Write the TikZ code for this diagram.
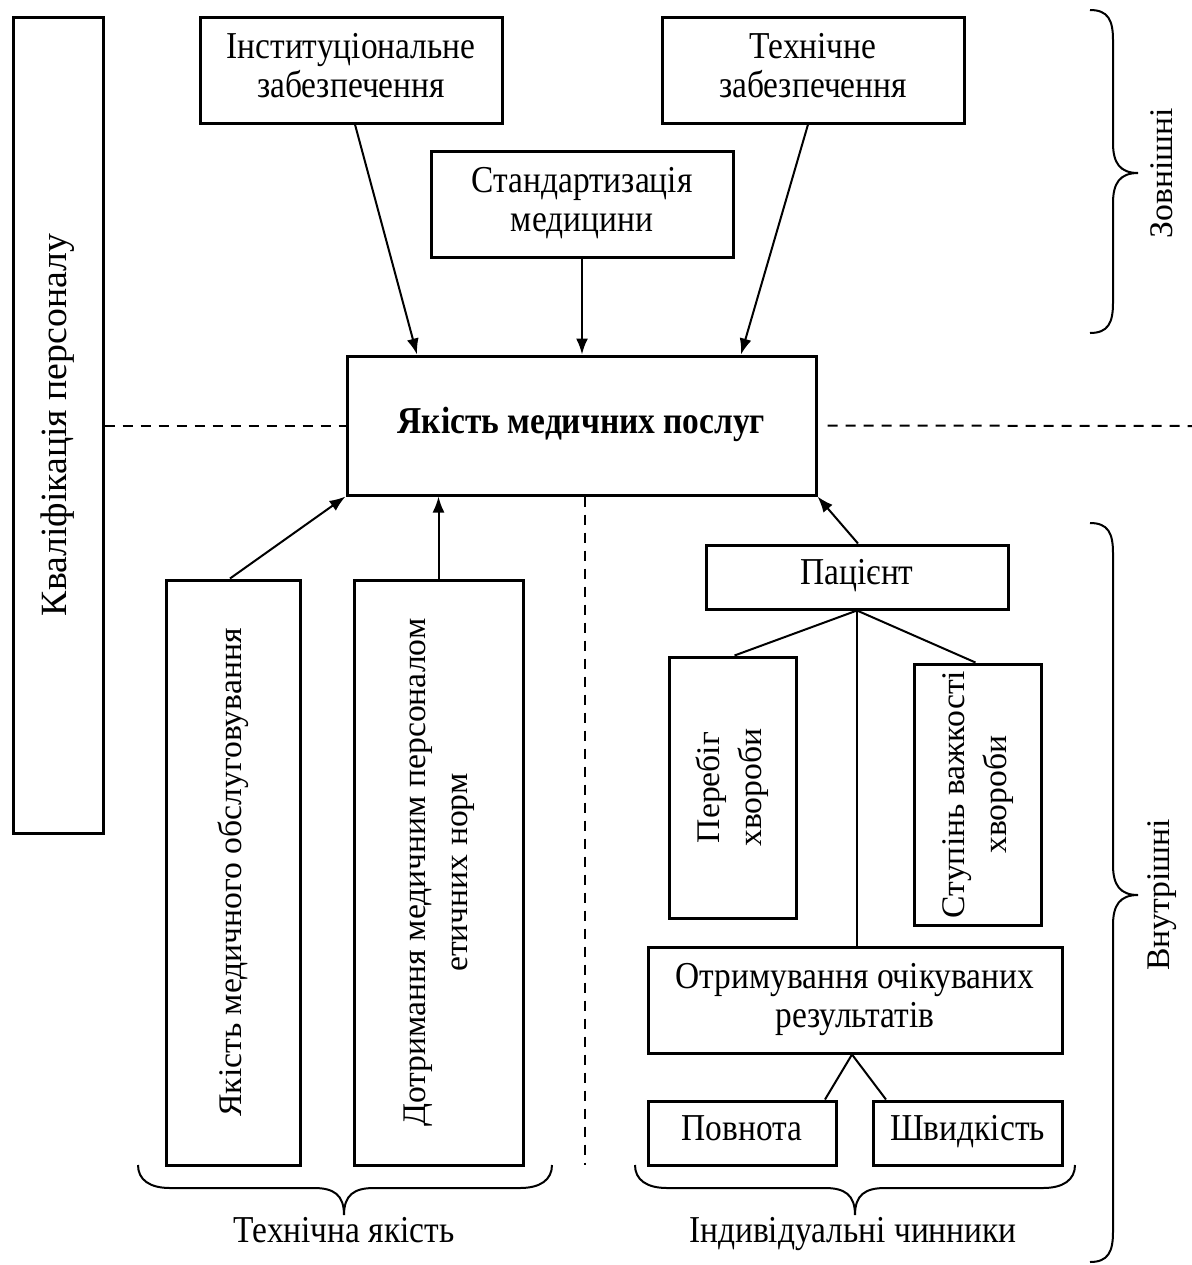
\documentclass[tikz,border=0pt]{standalone}
\usepackage{fontspec}
\setmainfont{Liberation Serif}
\newfontfamily\hfont{Liberation Serif}[FakeStretch=0.88]
\newfontfamily\vfont{Liberation Serif}[FakeStretch=1.02]
\usetikzlibrary{arrows.meta}
\newcommand{\myfs}{\hfont\fontsize{19}{19.5}\selectfont}
\newcommand{\myvfs}{\vfont\fontsize{16.5}{21}\selectfont}
\newcommand{\vtxt}[1]{\rotatebox{90}{\myvfs #1}}
\newcommand{\vbig}[1]{\rotatebox{90}{\vfont\fontsize{18.5}{21}\selectfont #1}}
\newcommand{\vtwo}[2]{\rotatebox{90}{\myvfs\begin{tabular}{@{}c@{}}#1\\#2\end{tabular}}}
\begin{document}
\begin{tikzpicture}[x=0.5pt,y=-0.5pt,
  box/.style={draw, line width=1.5pt, rectangle, inner sep=0pt, align=center, font=\myfs},
  conn/.style={line width=1pt},
  arr/.style={line width=1pt, -{Latex[length=8pt,width=6pt]}},
  dsh/.style={line width=1pt, dash pattern=on 5pt off 4pt},
  brace/.style={line width=1pt},
  lbl/.style={font=\myfs, inner sep=0pt}]
\useasboundingbox (0,0) rectangle (1192,1265);

% boxes
\node[box, minimum width=45pt, minimum height=408pt] (L) at (58,425) {\vbig{Кваліфікація персоналу}};
\node[box, minimum width=151pt, minimum height=53pt] (Inst) at (351,70) {Інституціональне\strut\\забезпечення\strut};
\node[box, minimum width=151pt, minimum height=53pt] (Tech) at (813,70) {Технічне\strut\\забезпечення\strut};
\node[box, minimum width=151pt, minimum height=53pt] (Stand) at (582,204) {Стандартизація\strut\\медицини\strut};
\node[box, minimum width=234.5pt, minimum height=69.5pt] (Main) at (581.5,425.5) {\bfseries Якість медичних послуг\strut};
\node[box, minimum width=67pt, minimum height=292.5pt] (A) at (233,872.5) {\vtxt{Якість медичного обслуговування}};
\node[box, minimum width=84.5pt, minimum height=292.5pt] (B) at (438.5,872.5) {\vtwo{Дотримання медичним персоналом}{етичних норм}};
\node[box, minimum width=151pt, minimum height=32pt] (Pac) at (857,577) {Пацієнт\strut};
\node[box, minimum width=63.5pt, minimum height=130.5pt] (Per) at (732.5,787.5) {\vtwo{Перебіг}{хвороби}};
\node[box, minimum width=63.5pt, minimum height=130.5pt] (Stup) at (977.5,794.5) {\vtwo{Ступінь важкості}{хвороби}};
\node[box, minimum width=207pt, minimum height=53pt] (Otr) at (855,1000) {Отримування очікуваних\strut\\результатів\strut};
\node[box, minimum width=94pt, minimum height=32pt] (Povn) at (742,1133) {Повнота\strut};
\node[box, minimum width=94.5pt, minimum height=32pt] (Shv) at (967.5,1133) {Швидкість\strut};

% arrows into main
\draw[arr] ([xshift=2pt]Inst.south) -- ([xshift=-82.25pt]Main.north);
\draw[arr] (Stand.south) -- (Stand.south |- Main.north);
\draw[arr] ([xshift=-2.5pt]Tech.south) -- ([xshift=79.75pt]Main.north);
\draw[arr] ([xshift=-1.5pt]A.north) -- (Main.south west);
\draw[arr] (B.north) -- (B.north |- Main.south);
\draw[arr] ([xshift=0.5pt]Pac.north) -- (Main.south east);

% patient tree
\draw[conn] (Pac.south) -- ([xshift=1pt]Per.north);
\draw[conn] (Pac.south) -- ([xshift=-1pt]Stup.north);
\draw[conn] (Pac.south) -- (Pac.south |- Otr.north);
\draw[conn] ([xshift=-1.5pt]Otr.south) -- ([xshift=41.5pt]Povn.north);
\draw[conn] ([xshift=-1.5pt]Otr.south) -- ([xshift=-40.75pt]Shv.north);

% dashed lines
\coordinate (rEnd) at (1192,426);
\coordinate (dEnd) at (585,1165);
\draw[dsh] (L.east |- Main.west) -- (Main.west);
\draw[dsh] ([xshift=5pt]Main.east) -- (rEnd);
\draw[dsh] ([xshift=1.75pt]Main.south) -- (dEnd);

% right braces
\draw[brace] (1090,10) .. controls (1108,10) and (1113,20) .. (1113,40) -- (1113,143)
  .. controls (1113,163) and (1120,173) .. (1138,173)
  .. controls (1120,173) and (1113,183) .. (1113,203) -- (1113,303)
  .. controls (1113,323) and (1108,333) .. (1090,333);
\node[inner sep=0pt] (ext) at (1162,173) {\vtxt{Зовнішні}};
\draw[brace] (1090,523) .. controls (1108,523) and (1113,533) .. (1113,553) -- (1113,865)
  .. controls (1113,885) and (1120,895) .. (1138,895)
  .. controls (1120,895) and (1113,905) .. (1113,925) -- (1113,1232)
  .. controls (1113,1252) and (1108,1262) .. (1090,1262);
\node[inner sep=0pt] (int) at (1162,895) {\vtxt{Внутрішні}};

% bottom braces
\draw[brace] (138,1165) .. controls (138,1180) and (150,1188) .. (170,1188) -- (314,1188)
  .. controls (334,1188) and (344,1195) .. (344,1215)
  .. controls (344,1195) and (354,1188) .. (374,1188) -- (520,1188)
  .. controls (540,1188) and (552,1180) .. (552,1165);
\node[lbl] (techq) at (344,1235) {Технічна якість\strut};
\draw[brace] (635,1165) .. controls (635,1180) and (647,1188) .. (667,1188) -- (825,1188)
  .. controls (845,1188) and (855,1195) .. (855,1215)
  .. controls (855,1195) and (865,1188) .. (885,1188) -- (1043,1188)
  .. controls (1063,1188) and (1075,1180) .. (1075,1165);
\node[lbl] (indiv) at (853,1235) {Індивідуальні чинники\strut};
\end{tikzpicture}
\end{document}
